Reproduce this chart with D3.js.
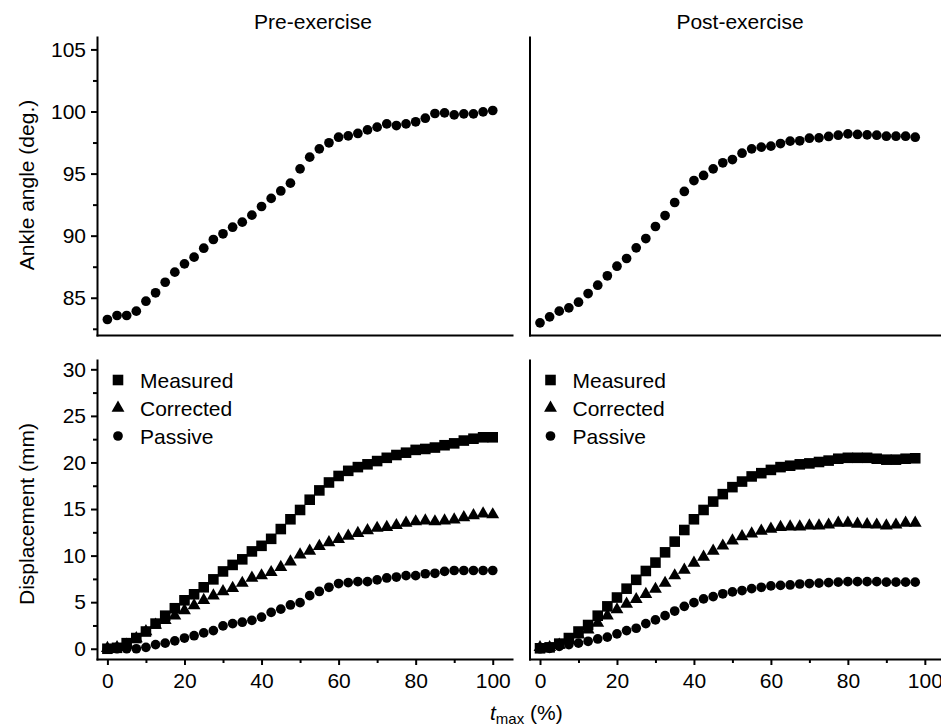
<!DOCTYPE html>
<html>
<head>
<meta charset="utf-8">
<script src="https://cdn.jsdelivr.net/npm/d3@7/dist/d3.min.js"></script>
<style>
  body { margin: 0; background: #fff; }
  svg { display: block; font-family: "Liberation Sans", Arial, sans-serif; }
  .axis path, .axis line { stroke: #000; stroke-width: 2px; }
  .axis text { font-size: 21px; fill: #000; font-family: "Liberation Sans", Arial, sans-serif; }
  .lbl { font-size: 21px; fill: #000; }
</style>
</head>
<body>
<svg id="chart" width="941" height="725"></svg>
<script>
// time axis (% of tmax)
const tPre = [0,2.5,5,7.5,10,12.5,15,17.5,20,22.5,25,27.5,30,32.5,35,37.5,40,42.5,45,47.5,50,52.5,55,57.5,60,62.5,65,67.5,70,72.5,75,77.5,80,82.5,85,87.5,90,92.5,95,97.5,100];
const tPost = [0,2.5,5,7.5,10,12.5,15,17.5,20,22.5,25,27.5,30,32.5,35,37.5,40,42.5,45,47.5,50,52.5,55,57.5,60,62.5,65,67.5,70,72.5,75,77.5,80,82.5,85,87.5,90,92.5,95,97.5];

// ankle angle (deg.)
const anglePre = [83.25,83.57,83.57,83.92,84.72,85.4,86.25,87.06,87.73,88.27,88.99,89.69,90.15,90.68,91.09,91.65,92.35,93.0,93.6,94.23,95.38,96.32,96.99,97.48,97.93,98.04,98.23,98.52,98.74,99.0,98.87,99.0,99.17,99.46,99.84,99.89,99.73,99.81,99.81,99.97,100.08];
const anglePost = [82.98,83.46,83.92,84.19,84.64,85.34,86.01,86.77,87.54,88.16,89.02,89.77,90.74,91.62,92.67,93.56,94.44,94.85,95.38,95.87,96.13,96.64,96.99,97.13,97.21,97.42,97.61,97.64,97.85,97.88,97.99,98.09,98.2,98.15,98.12,98.09,98.01,98.01,98.01,97.93];

// displacement (mm)
const measuredPre = [0,0.1,0.6,1.15,1.85,2.7,3.55,4.35,5.2,5.85,6.6,7.45,8.3,9.0,9.6,10.45,11.05,11.8,12.85,13.9,14.9,16.0,17.0,17.85,18.55,19.1,19.5,19.8,20.15,20.5,20.8,21.05,21.35,21.45,21.6,21.85,22.05,22.35,22.55,22.7,22.7];
const correctedPre = [0.05,0.15,0.4,1.1,1.85,2.55,3.05,3.55,4.1,4.65,5.2,5.7,6.15,6.5,7.05,7.6,7.85,8.2,8.75,9.35,10.1,10.5,11.0,11.4,11.75,12.1,12.4,12.7,12.95,13.05,13.25,13.5,13.65,13.75,13.65,13.75,13.85,14.1,14.3,14.5,14.4];
const passivePre = [0,0,0,0,0.15,0.45,0.6,0.85,1.15,1.4,1.7,1.95,2.45,2.7,2.85,3.05,3.4,3.9,4.25,4.7,4.95,5.7,6.15,6.6,7.0,7.1,7.2,7.2,7.4,7.6,7.7,7.85,7.85,8.05,8.1,8.3,8.4,8.4,8.4,8.4,8.4];

const measuredPost = [0.05,0.15,0.55,1.15,1.85,2.55,3.55,4.55,5.5,6.45,7.4,8.35,9.25,10.35,11.5,12.75,13.9,14.9,15.8,16.6,17.35,17.95,18.5,18.85,19.2,19.5,19.65,19.8,19.9,20.05,20.2,20.4,20.5,20.5,20.5,20.4,20.3,20.3,20.4,20.45];
const correctedPost = [0.15,0.15,0.4,0.9,1.5,2.05,2.75,3.55,4.2,4.8,5.3,5.85,6.4,7.05,7.85,8.45,9.2,9.85,10.5,11.05,11.6,12.05,12.35,12.65,12.85,13.05,13.1,13.1,13.2,13.2,13.3,13.5,13.5,13.4,13.35,13.3,13.2,13.3,13.5,13.5];
const passivePost = [0,0.05,0.25,0.45,0.6,0.8,1.05,1.25,1.6,1.95,2.2,2.7,3.1,3.55,4.05,4.55,4.95,5.35,5.6,5.9,6.1,6.25,6.45,6.6,6.75,6.8,6.85,6.95,7.0,7.05,7.1,7.15,7.2,7.2,7.2,7.2,7.15,7.15,7.15,7.15];

const seriesNames = ["Measured", "Corrected", "Passive"];
const xTicks = [0, 20, 40, 60, 80, 100];
const xMinor = [10, 30, 50, 70, 90];
const angleTicks = [85, 90, 95, 100, 105];
const angleMinor = [82.5, 87.5, 92.5, 97.5, 102.5];
const dispTicks = [0, 5, 10, 15, 20, 25, 30];
const dispMinor = [2.5, 7.5, 12.5, 17.5, 22.5, 27.5];

const svg = d3.select("#chart");

var symbols = {
  Measured: d3.symbol().type(d3.symbolSquare).size(112),
  Corrected: d3.symbol().type(d3.symbolTriangle).size(72),
  Passive: d3.symbol().type(d3.symbolCircle).size(74)
};

// scales
var xLeft = d3.scaleLinear().domain([-2.7, 105]).range([97, 512]);
var xRight = d3.scaleLinear().domain([-2.73, 104.2]).range([529.5, 941]);
var yAngle = d3.scaleLinear().domain([82, 106]).range([335, 37]);
var yDisp = d3.scaleLinear().domain([-1.1, 31]).range([659, 360]);

function drawPanel(x, y, opts) {
  var g = svg.append("g");

  // x axis
  var xa = g.append("g").attr("class", "axis")
    .attr("transform", "translate(0," + y.range()[0] + ")");
  if (opts.xLabels) {
    xa.call(d3.axisBottom(x).tickValues(xTicks).tickSize(6).tickSizeOuter(0).tickPadding(8));
    g.append("g").attr("class", "axis")
      .attr("transform", "translate(0," + y.range()[0] + ")")
      .call(d3.axisBottom(x).tickValues(xMinor).tickSize(4).tickSizeOuter(0).tickFormat(""))
      .select(".domain").remove();
  } else {
    xa.call(d3.axisBottom(x).tickValues([]).tickSizeOuter(0));
  }

  // y axis
  var ya = g.append("g").attr("class", "axis")
    .attr("transform", "translate(" + x.range()[0] + ",0)");
  if (opts.yTicks) {
    ya.call(d3.axisLeft(y).tickValues(opts.yTicks).tickSize(6).tickSizeOuter(0).tickPadding(5));
    g.append("g").attr("class", "axis")
      .attr("transform", "translate(" + x.range()[0] + ",0)")
      .call(d3.axisLeft(y).tickValues(opts.yMinor).tickSize(4).tickSizeOuter(0).tickFormat(""))
      .select(".domain").remove();
  } else {
    ya.call(d3.axisLeft(y).tickValues([]).tickSizeOuter(0));
  }
  g.selectAll(".axis .domain").attr("stroke-linecap", "square");

  // points
  opts.series.forEach(function(s) {
    var pts = s.t.map(function(t, i) { return {t: t, v: s.v[i]}; });
    g.selectAll(null)
      .data(pts)
      .enter().append("path")
        .attr("d", symbols[s.name])
        .attr("fill", "#000")
        .attr("transform", function(d) { return "translate(" + x(d.t) + "," + y(d.v) + ")"; });
  });

  // legend
  if (opts.legend) {
    seriesNames.forEach(function(name, i) {
      var ly = 380 + i * 28;
      var lx = x.range()[0] + 21;
      g.append("path").attr("d", symbols[name]).attr("fill", "#000")
        .attr("transform", "translate(" + lx + "," + ly + ")");
      g.append("text").attr("class", "lbl")
        .attr("x", lx + 22).attr("y", ly).attr("dy", "0.36em")
        .text(name);
    });
  }
}

drawPanel(xLeft, yAngle, {
  yTicks: angleTicks, yMinor: angleMinor,
  series: [{name: "Passive", t: tPre, v: anglePre}]
});
drawPanel(xRight, yAngle, {
  series: [{name: "Passive", t: tPost, v: anglePost}]
});
drawPanel(xLeft, yDisp, {
  xLabels: true, yTicks: dispTicks, yMinor: dispMinor, legend: true,
  series: [
    {name: "Measured", t: tPre, v: measuredPre},
    {name: "Corrected", t: tPre, v: correctedPre},
    {name: "Passive", t: tPre, v: passivePre}
  ]
});
drawPanel(xRight, yDisp, {
  xLabels: true, legend: true,
  series: [
    {name: "Measured", t: tPost, v: measuredPost},
    {name: "Corrected", t: tPost, v: correctedPost},
    {name: "Passive", t: tPost, v: passivePost}
  ]
});

// titles
svg.append("text").attr("class", "lbl").attr("x", 313).attr("y", 29)
  .attr("text-anchor", "middle").text("Pre-exercise");
svg.append("text").attr("class", "lbl").attr("x", 740).attr("y", 29)
  .attr("text-anchor", "middle").text("Post-exercise");

// y labels
svg.append("text").attr("class", "lbl")
  .attr("transform", "translate(34,185) rotate(-90)")
  .attr("text-anchor", "middle").text("Ankle angle (deg.)");
svg.append("text").attr("class", "lbl")
  .attr("transform", "translate(34,514) rotate(-90)")
  .attr("text-anchor", "middle").text("Displacement (mm)");

// x label
var xl = svg.append("text").attr("class", "lbl").attr("x", 490).attr("y", 720);
xl.append("tspan").attr("font-style", "italic").text("t");
xl.append("tspan").attr("font-size", "15px").attr("dy", "4").text("max");
xl.append("tspan").attr("dy", "-4").text(" (%)");
</script>
</body>
</html>
